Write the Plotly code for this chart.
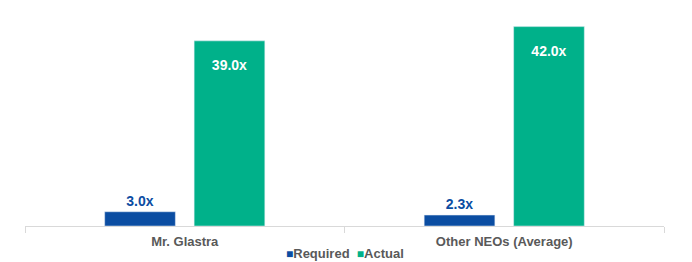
import plotly.graph_objects as go

categories = ["Mr. Glastra", "Other NEOs (Average)"]
required = [3.0, 2.3]
actual = [39.0, 42.0]
req_labels = ["3.0x", "2.3x"]
act_labels = ["39.0x", "42.0x"]
series_names = ["Required", "Actual"]

BLUE = "#0B4DA2"
GREEN = "#00B18A"
FONT = "Liberation Sans, Arial, sans-serif"

fig = go.Figure()
fig.add_trace(go.Bar(
    name=series_names[0], x=categories, y=required, marker_color=BLUE,
    text=req_labels, textposition="outside", cliponaxis=False,
    textfont=dict(family=FONT, size=14, color=BLUE, weight="bold"),
))
fig.add_trace(go.Bar(
    name=series_names[1], x=categories, y=actual, marker_color=GREEN,
    text=["<span style='font-size:9px'>\u00a0</span><br>" + t for t in act_labels],
    textposition="inside", insidetextanchor="end",
    textfont=dict(family=FONT, size=14, color="white", weight="bold"),
))

legend_text = (
    f"<span style='color:{BLUE};font-size:12px'>■</span>{series_names[0]}&nbsp;&nbsp;"
    f"<span style='color:{GREEN};font-size:12px'>■</span>{series_names[1]}"
)
fig.add_annotation(
    text=legend_text, xref="paper", yref="paper", x=0.5, y=-0.125,
    xanchor="center", yanchor="middle", showarrow=False,
    font=dict(family=FONT, size=13, color="#595959", weight="bold"),
)

fig.update_layout(
    width=692, height=262,
    margin=dict(l=25, r=28, t=10, b=36, autoexpand=False),
    plot_bgcolor="white", paper_bgcolor="white",
    barmode="group", bargap=0.44, bargroupgap=0.21,
    font=dict(family=FONT, size=13, color="#595959"),
    showlegend=False,
)
fig.update_xaxes(
    showline=True, linecolor="#D9D9D9", linewidth=1,
    ticks="outside", tickson="boundaries", ticklen=6, tickcolor="#D9D9D9",
    tickfont=dict(family=FONT, size=13, color="#595959", weight="bold"),
    ticklabelstandoff=3,
    showgrid=False,
)
fig.update_yaxes(range=[0, 45.5], visible=False, showgrid=False)

fig.write_html("out.html")
